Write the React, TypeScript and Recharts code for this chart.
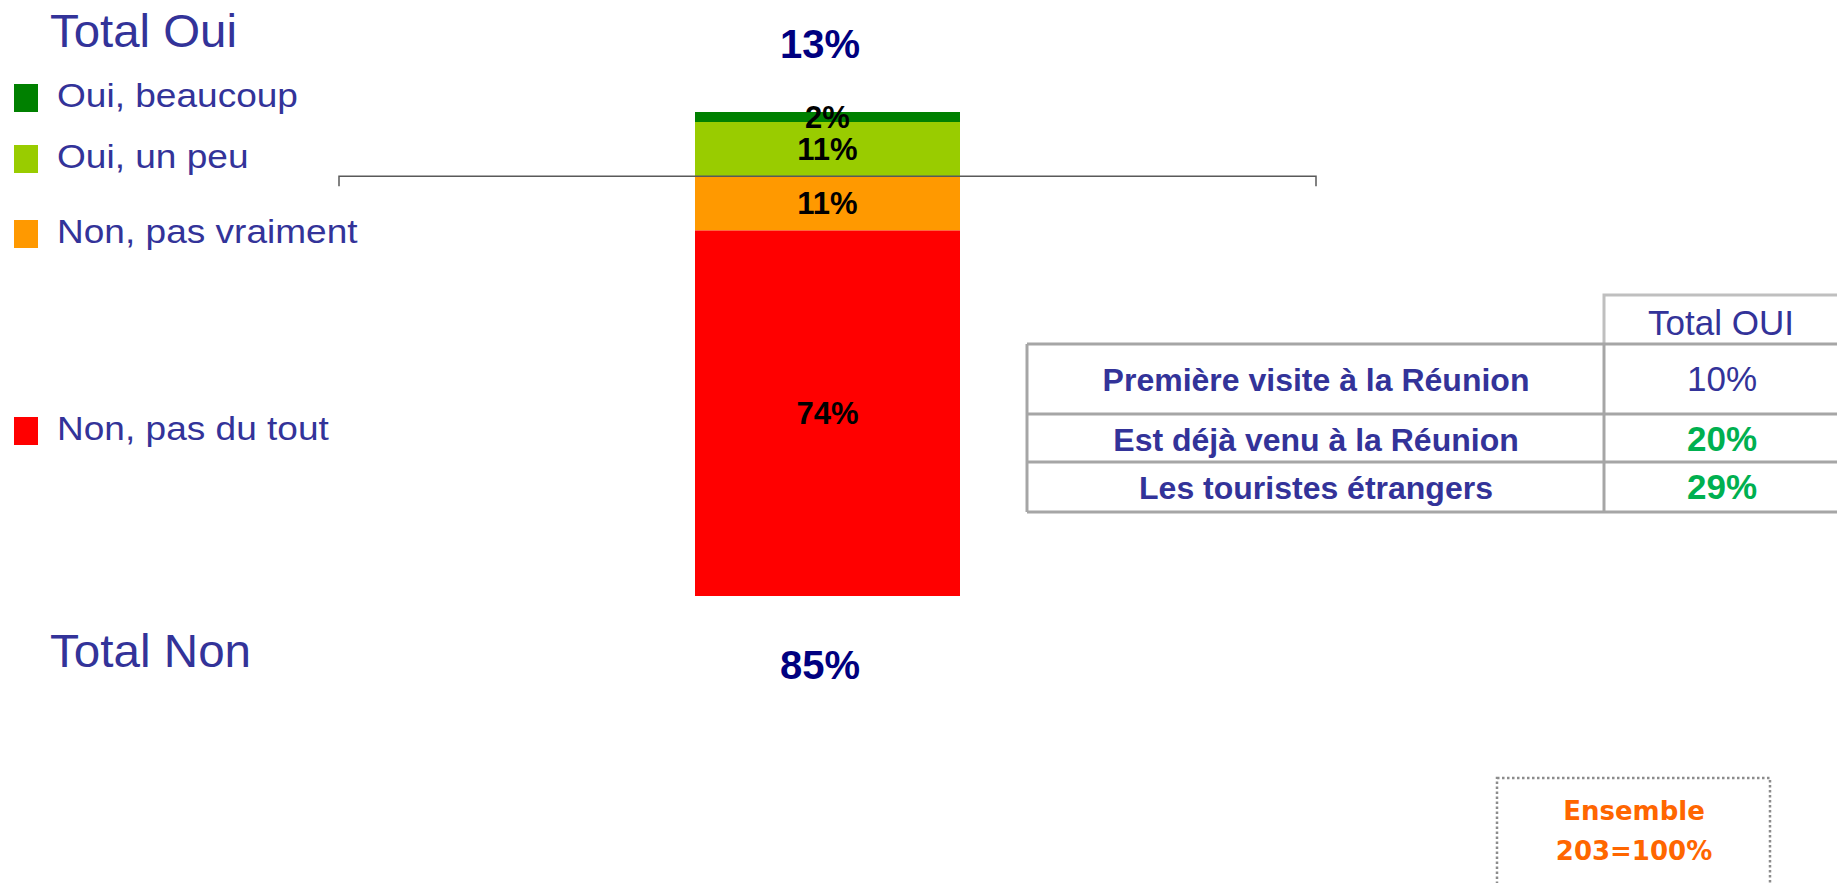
import React from "react";
import { BarChart, Bar, XAxis, YAxis, LabelList, ReferenceLine } from "recharts";

// ---- Data ----
const categories = [""];
const seriesNames = ["Oui, beaucoup", "Oui, un peu", "Non, pas vraiment", "Non, pas du tout"];
const seriesKeys = ["beaucoup", "unPeu", "pasVraiment", "pasDuTout"];
const seriesValues = [2, 11, -11, -74];
const seriesColors = ["#008000", "#99CC00", "#FF9900", "#FF0000"];
// stacking order outward from the zero line
const stackOrder = [1, 0, 2, 3];

const tableHeader = "Total OUI";
const tableLabels = ["Première visite à la Réunion", "Est déjà venu à la Réunion", "Les touristes étrangers"];
const tableValues = [10, 20, 29];
const tableSignificant = [false, true, true];

const sampleLabel = "Ensemble";
const sampleSize = 203;

const data = categories.map((c) => {
  const row: any = { cat: c };
  seriesKeys.forEach((k, i) => (row[k] = seriesValues[i]));
  return row;
});

const totalOui = seriesValues.filter((v) => v > 0).reduce((a, b) => a + b, 0);
const totalNon = -seriesValues.filter((v) => v < 0).reduce((a, b) => a + b, 0);

const FONT = "Arial, 'Liberation Sans', sans-serif";
const BLUE = "#333399";
const NAVY = "#000080";

const AxisShape = (props: any) => {
  const { x1, y1, x2, y2 } = props;
  return (
    <path
      d={`M${x1},${y1 + 10} L${x1},${y1} L${x2},${y2} L${x2},${y2 + 10}`}
      stroke="#595959"
      strokeWidth={1.5}
      fill="none"
    />
  );
};

const legendBaselines = [107, 168, 243, 440];

export default function App() {
  return (
    <div
      style={{
        position: "absolute",
        left: 0,
        top: 0,
        width: 1837,
        height: 883,
        overflow: "hidden",
        background: "#fff",
      }}
    >
      <div style={{ position: "absolute", left: 0, top: 0 }}>
        <BarChart
          width={1837}
          height={883}
          data={data}
          stackOffset="sign"
          margin={{ top: 112, bottom: 287, left: 339, right: 521 }}
        >
          <XAxis dataKey="cat" hide />
          <YAxis type="number" domain={[-85, 13]} hide allowDataOverflow />
          {stackOrder.map((i) => {
            const k = seriesKeys[i];
            return (
              <Bar
                key={k}
                dataKey={k}
                name={seriesNames[i]}
                stackId="a"
                fill={seriesColors[i]}
                barSize={265}
                isAnimationActive={false}
              >
                <LabelList
                  dataKey={k}
                  position="center"
                  formatter={(v: any) => `${Math.abs(Number(v))}%`}
                  fill="#000"
                  fontSize={31}
                  fontWeight="bold"
                  fontFamily={FONT}
                />
              </Bar>
            );
          })}
          <ReferenceLine y={0} shape={AxisShape} />
        </BarChart>
      </div>

      <svg
        width={1837}
        height={883}
        style={{ position: "absolute", left: 0, top: 0, pointerEvents: "none" }}
        fontFamily={FONT}
      >
        {/* Totals */}
        <text transform="translate(50,47) scale(1.03,1)" fontSize={46} fill={BLUE}>Total Oui</text>
        <text transform="translate(50,667) scale(1.035,1)" fontSize={46} fill={BLUE}>Total Non</text>
        <text x={820} y={58} fontSize={40} fontWeight="bold" fill={NAVY} textAnchor="middle">{`${totalOui}%`}</text>
        <text x={820} y={679} fontSize={40} fontWeight="bold" fill={NAVY} textAnchor="middle">{`${totalNon}%`}</text>

        {/* Legend */}
        {seriesNames.map((n, i) => (
          <g key={n}>
            <rect x={14} y={legendBaselines[i] - 23} width={24} height={28} fill={seriesColors[i]} />
            <text transform={`translate(57,${legendBaselines[i]}) scale(1.09,1)`} fontSize={34} fill={BLUE}>{n}</text>
          </g>
        ))}

        {/* Table */}
        <g stroke="#BFBFBF" strokeWidth={3} fill="none">
          <path d="M1604,344 L1604,295 L1840,295" />
        </g>
        <g stroke="#A6A6A6" strokeWidth={3} fill="none">
          <line x1={1027} y1={344} x2={1840} y2={344} />
          <line x1={1027} y1={414} x2={1840} y2={414} />
          <line x1={1027} y1={462} x2={1840} y2={462} />
          <line x1={1027} y1={512} x2={1840} y2={512} />
          <line x1={1027} y1={344} x2={1027} y2={512} />
          <line x1={1604} y1={344} x2={1604} y2={512} />
        </g>
        <text x={1721} y={335} fontSize={35} fill={BLUE} textAnchor="middle">{tableHeader}</text>
        {tableLabels.map((l, i) => {
          const baselines = [391, 451, 499];
          return (
            <g key={l}>
              <text x={1316} y={baselines[i]} fontSize={32} fontWeight="bold" fill={BLUE} textAnchor="middle">{l}</text>
              <text
                x={1722}
                y={baselines[i]}
                fontSize={35}
                fontWeight={tableSignificant[i] ? "bold" : "normal"}
                fill={tableSignificant[i] ? "#00B050" : BLUE}
                textAnchor="middle"
              >{`${tableValues[i]}%`}</text>
            </g>
          );
        })}

        {/* Sample box */}
        <rect x={1497} y={778} width={273} height={140} fill="none" stroke="#8C8C8C" strokeWidth={2.5} strokeDasharray="2.5 2.5" />
        <text x={1634} y={820} fontSize={26} fontWeight="bold" fill="#FF6600" textAnchor="middle" fontFamily="'DejaVu Sans', sans-serif">{sampleLabel}</text>
        <text x={1634} y={860} fontSize={26} fontWeight="bold" fill="#FF6600" textAnchor="middle" fontFamily="'DejaVu Sans', sans-serif">{`${sampleSize}=100%`}</text>
      </svg>
    </div>
  );
}
